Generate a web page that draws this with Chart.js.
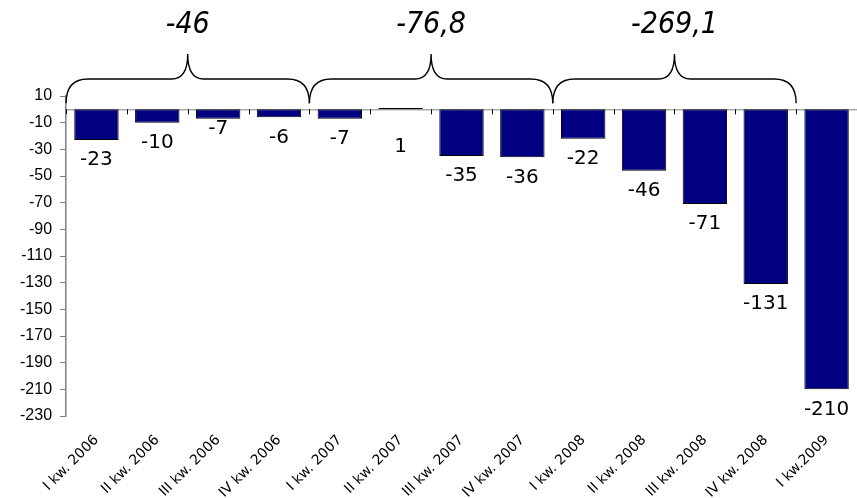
<!DOCTYPE html>
<html>
<head>
<meta charset="utf-8">
<script src="https://cdn.jsdelivr.net/npm/chart.js@4/dist/chart.umd.min.js"></script>
<style>
  html, body { margin: 0; padding: 0; background: #fff; }
  #wrap { width: 857px; height: 498px; }
</style>
</head>
<body>
<div id="wrap"><canvas id="chart"></canvas></div>
<script>
// Quarterly balance
const quarters = [
    "I kw. 2006", "II kw. 2006", "III kw. 2006", "IV kw. 2006",
    "I kw. 2007", "II kw. 2007", "III kw. 2007", "IV kw. 2007",
    "I kw. 2008", "II kw. 2008", "III kw. 2008", "IV kw. 2008",
    "I kw.2009"
];
const balance = [-23, -10, -7, -6, -7, 1, -35, -36, -22, -46, -71, -131, -210];

// Axis range
const yMin = -230;
const yMax = 10;
const yStep = 20;

// Yearly totals shown above the braces (first and last quarter index of each year)
const yearTotals = ["-46", "-76,8", "-269,1"];
const yearFirst = [0, 4, 8];
const yearLast = [3, 7, 11];

// Small manual nudges for labels that would collide
const labelShift = { 2: -10, 5: 17 };

// Draws the zero line, value labels and the year braces
const annotations = {
    id: "annotations",
    beforeDatasetsDraw(chart) {
        const { ctx, chartArea, scales } = chart;
        const y0 = scales.y.getPixelForValue(0);
        ctx.save();
        ctx.strokeStyle = "#808080";
        ctx.lineWidth = 1;
        ctx.beginPath();
        ctx.moveTo(chartArea.left, y0 + 0.5);
        ctx.lineTo(chartArea.right, y0 + 0.5);
        ctx.stroke();
        // tick marks between categories
        ctx.strokeStyle = "#000";
        for (let i = 0; i <= quarters.length; i++) {
            const x = Math.round(scales.x.getPixelForValue(i - 0.5)) + 0.5;
            ctx.beginPath();
            ctx.moveTo(x, y0);
            ctx.lineTo(x, y0 + 5);
            ctx.stroke();
        }
        ctx.restore();
    },
    afterDatasetsDraw(chart) {
        const { ctx, chartArea, scales } = chart;
        const meta = chart.getDatasetMeta(0);
        const y0 = scales.y.getPixelForValue(0);
        ctx.save();

        // value labels under each bar
        ctx.font = "20px 'DejaVu Sans', Verdana, sans-serif";
        ctx.fillStyle = "#000";
        ctx.textAlign = "center";
        ctx.textBaseline = "middle";
        meta.data.forEach((bar, i) => {
            const v = balance[i];
            const y = scales.y.getPixelForValue(Math.min(v, 0)) + 20 + (labelShift[i] || 0);
            ctx.fillText(String(v), bar.x, y);
        });

        // braces over each year
        const yBase = y0 - 6;
        const yMid = chartArea.top - 17;
        const yTip = chartArea.top - 42;
        const r = 22;
        const r2 = 16;
        ctx.strokeStyle = "#000";
        ctx.lineWidth = 1.4;
        ctx.font = "italic 30px 'DejaVu Sans Condensed', 'DejaVu Sans', sans-serif";
        yearTotals.forEach((txt, k) => {
            const x1 = scales.x.getPixelForValue(yearFirst[k] - 0.5);
            const x2 = scales.x.getPixelForValue(yearLast[k] + 0.5);
            const xm = (x1 + x2) / 2;
            ctx.beginPath();
            ctx.moveTo(x1, yBase);
            ctx.quadraticCurveTo(x1, yMid, x1 + r, yMid);
            ctx.lineTo(xm - r2, yMid);
            ctx.quadraticCurveTo(xm, yMid, xm, yTip);
            ctx.quadraticCurveTo(xm, yMid, xm + r2, yMid);
            ctx.lineTo(x2 - r, yMid);
            ctx.quadraticCurveTo(x2, yMid, x2, yBase);
            ctx.stroke();
            ctx.fillText(txt, xm, chartArea.top - 71);
        });
        ctx.restore();
    }
};

const ctx = document.getElementById("chart").getContext("2d");
new Chart(ctx, {
    type: "bar",
    data: {
        labels: quarters,
        datasets: [{
            data: balance,
            backgroundColor: "#000080",
            borderColor: "#000",
            borderWidth: 1,
            borderSkipped: false,
            categoryPercentage: 1,
            barPercentage: 0.73
        }]
    },
    options: {
        responsive: true,
        maintainAspectRatio: false,
        animation: false,
        layout: {
            padding: { top: 96, right: 0, left: 12, bottom: 0 }
        },
        plugins: {
            legend: { display: false },
            tooltip: { enabled: false }
        },
        scales: {
            x: {
                grid: { display: false },
                border: { display: false },
                afterFit(scale) {
                    scale.height = 82;
                },
                ticks: {
                    color: "#000",
                    maxRotation: 45,
                    minRotation: 45,
                    autoSkip: false,
                    padding: 8,
                    font: { family: "'DejaVu Sans', Verdana, sans-serif", size: 14 }
                }
            },
            y: {
                min: yMin,
                max: yMax,
                grid: {
                    drawOnChartArea: false,
                    drawTicks: true,
                    tickLength: 6,
                    color: "#808080"
                },
                border: { color: "#808080", width: 1.5 },
                ticks: {
                    stepSize: yStep,
                    color: "#000",
                    padding: 8,
                    font: { family: "'Liberation Sans', Arial, sans-serif", size: 16 }
                }
            }
        }
    },
    plugins: [annotations]
});
</script>
</body>
</html>
